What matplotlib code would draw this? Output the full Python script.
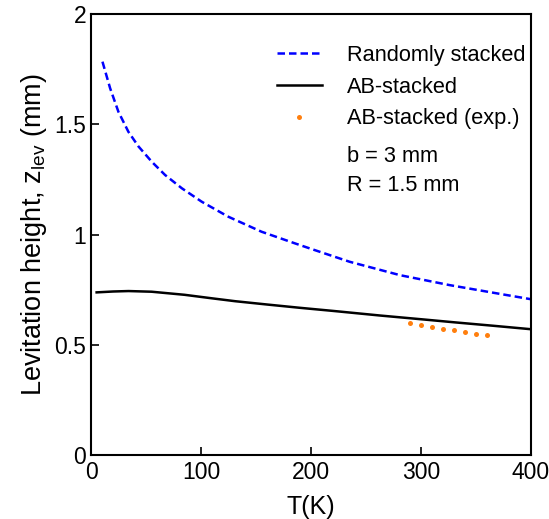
import matplotlib
matplotlib.use("Agg")
import matplotlib.pyplot as plt

plt.rcParams['font.family'] = ['Liberation Sans', 'DejaVu Sans']

# randomly stacked (theory)
T_rand = [10.3, 17.3, 24.8, 33.9, 43, 55.2, 67.3, 82.5, 100.6, 124.8, 155, 185.5, 202,
          235, 281, 326, 372, 400]
z_rand = [1.784, 1.663, 1.557, 1.466, 1.400, 1.330, 1.270, 1.210, 1.149, 1.081, 1.013, 0.960,
          0.932, 0.877, 0.816, 0.771, 0.731, 0.707]

# AB-stacked (theory)
T_ab = [5, 20, 34, 55, 85, 110, 131, 160, 190, 220, 263, 305, 331, 365, 400]
z_ab = [0.738, 0.742, 0.744, 0.741, 0.727, 0.711, 0.698, 0.683, 0.668, 0.654, 0.633, 0.614,
        0.602, 0.587, 0.571]

# AB-stacked (experiment)
T_exp = [290, 300, 310, 320, 330, 340, 350, 360]
z_exp = [0.597, 0.590, 0.582, 0.573, 0.566, 0.558, 0.550, 0.543]

fig = plt.figure(figsize=(5.49, 5.19), dpi=100)
ax = fig.add_axes([0.166, 0.123, 0.801, 0.850])

ax.plot(T_rand, z_rand, color='#0000ff', linestyle=(0, (3, 1.6)), lw=1.8, label='Randomly stacked')
ax.plot(T_ab, z_ab, color='black', lw=1.8, label='AB-stacked')
ax.plot(T_exp, z_exp, 'o', color='#ff7f0e', ms=3.6, mec='none', label='AB-stacked (exp.)')

ax.set_xlim(0, 400)
ax.set_ylim(0, 2)
ax.set_xticks([0, 100, 200, 300, 400])
ax.set_yticks([0, 0.5, 1, 1.5, 2])
ax.set_yticklabels(['0', '0.5', '1', '1.5', '2'])
ax.tick_params(direction='in', length=6, width=1.2, labelsize=16.5, top=False, right=False)
ax.tick_params(axis='x', pad=4)
for s in ax.spines.values():
    s.set_linewidth(1.5)

ax.set_xlabel('T(K)', fontsize=18, labelpad=8)
ax.set_ylabel('Levitation height, z$_{\\mathregular{lev}}$ (mm)', fontsize=19.5, labelpad=4)

ax.legend(loc='upper left', bbox_to_anchor=(0.377, 0.975), frameon=False, fontsize=15.7,
          handlelength=2.1, handletextpad=1.15, labelspacing=0.5)
ax.text(0.582, 0.676, 'b = 3 mm', transform=ax.transAxes, fontsize=15.7, va='center')
ax.text(0.582, 0.612, 'R = 1.5 mm', transform=ax.transAxes, fontsize=15.7, va='center')

plt.savefig('out.png')
